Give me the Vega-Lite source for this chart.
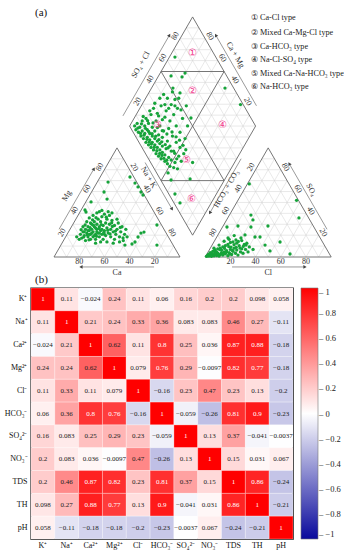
{
"$schema": "https://vega.github.io/schema/vega-lite/v6.json",
"padding": {"left": 3, "top": 0, "right": 0, "bottom": 0},
"spacing": -7.5,
"config": {"text": {"font": "Liberation Serif"}, "axis": {"labelFont": "Liberation Serif"}, "legend": {"labelFont": "Liberation Serif"}},
"resolve": {"scale": {"color": "independent"}, "legend": {"color": "independent"}},
"datasets": {
"grid": [
{"x":5,"y":8.66,"x2":95,"y2":8.66},{"x":10,"y":17.32,"x2":90,"y2":17.32},{"x":15,"y":25.98,"x2":85,"y2":25.98},{"x":20,"y":34.64,"x2":80,"y2":34.64},{"x":25,"y":43.3,"x2":75,"y2":43.3},{"x":30,"y":51.96,"x2":70,"y2":51.96},{"x":35,"y":60.62,"x2":65,"y2":60.62},{"x":40,"y":69.28,"x2":60,"y2":69.28},{"x":45,"y":77.94,"x2":55,"y2":77.94},
{"x":10,"y":0,"x2":55,"y2":77.94},{"x":20,"y":0,"x2":60,"y2":69.28},{"x":30,"y":0,"x2":65,"y2":60.62},{"x":40,"y":0,"x2":70,"y2":51.96},{"x":50,"y":0,"x2":75,"y2":43.3},{"x":60,"y":0,"x2":80,"y2":34.64},{"x":70,"y":0,"x2":85,"y2":25.98},{"x":80,"y":0,"x2":90,"y2":17.32},{"x":90,"y":0,"x2":95,"y2":8.66},
{"x":10,"y":0,"x2":5,"y2":8.66},{"x":20,"y":0,"x2":10,"y2":17.32},{"x":30,"y":0,"x2":15,"y2":25.98},{"x":40,"y":0,"x2":20,"y2":34.64},{"x":50,"y":0,"x2":25,"y2":43.3},{"x":60,"y":0,"x2":30,"y2":51.96},{"x":70,"y":0,"x2":35,"y2":60.62},{"x":80,"y":0,"x2":40,"y2":69.28},{"x":90,"y":0,"x2":45,"y2":77.94},
{"x":125,"y":8.66,"x2":215,"y2":8.66},{"x":130,"y":17.32,"x2":210,"y2":17.32},{"x":135,"y":25.98,"x2":205,"y2":25.98},{"x":140,"y":34.64,"x2":200,"y2":34.64},{"x":145,"y":43.3,"x2":195,"y2":43.3},{"x":150,"y":51.96,"x2":190,"y2":51.96},{"x":155,"y":60.62,"x2":185,"y2":60.62},{"x":160,"y":69.28,"x2":180,"y2":69.28},{"x":165,"y":77.94,"x2":175,"y2":77.94},
{"x":130,"y":0,"x2":175,"y2":77.94},{"x":140,"y":0,"x2":180,"y2":69.28},{"x":150,"y":0,"x2":185,"y2":60.62},{"x":160,"y":0,"x2":190,"y2":51.96},{"x":170,"y":0,"x2":195,"y2":43.3},{"x":180,"y":0,"x2":200,"y2":34.64},{"x":190,"y":0,"x2":205,"y2":25.98},{"x":200,"y":0,"x2":210,"y2":17.32},{"x":210,"y":0,"x2":215,"y2":8.66},
{"x":130,"y":0,"x2":125,"y2":8.66},{"x":140,"y":0,"x2":130,"y2":17.32},{"x":150,"y":0,"x2":135,"y2":25.98},{"x":160,"y":0,"x2":140,"y2":34.64},{"x":170,"y":0,"x2":145,"y2":43.3},{"x":180,"y":0,"x2":150,"y2":51.96},{"x":190,"y":0,"x2":155,"y2":60.62},{"x":200,"y":0,"x2":160,"y2":69.28},{"x":210,"y":0,"x2":165,"y2":77.94},
{"x":115,"y":25.98,"x2":65,"y2":112.58},{"x":120,"y":34.64,"x2":70,"y2":121.24},{"x":125,"y":43.3,"x2":75,"y2":129.9},{"x":130,"y":51.96,"x2":80,"y2":138.56},{"x":140,"y":69.28,"x2":90,"y2":155.88},{"x":145,"y":77.94,"x2":95,"y2":164.54},{"x":150,"y":86.6,"x2":100,"y2":173.21},{"x":155,"y":95.26,"x2":105,"y2":181.87},
{"x":105,"y":25.98,"x2":155,"y2":112.58},{"x":100,"y":34.64,"x2":150,"y2":121.24},{"x":95,"y":43.3,"x2":145,"y2":129.9},{"x":90,"y":51.96,"x2":140,"y2":138.56},{"x":80,"y":69.28,"x2":130,"y2":155.88},{"x":75,"y":77.94,"x2":125,"y2":164.54},{"x":70,"y":86.6,"x2":120,"y2":173.21},{"x":65,"y":95.26,"x2":115,"y2":181.87},
{"x":105,"y":25.98,"x2":115,"y2":25.98},{"x":100,"y":34.64,"x2":120,"y2":34.64},{"x":95,"y":43.3,"x2":125,"y2":43.3},{"x":90,"y":51.96,"x2":130,"y2":51.96},{"x":80,"y":69.28,"x2":140,"y2":69.28},{"x":75,"y":77.94,"x2":145,"y2":77.94},{"x":70,"y":86.6,"x2":150,"y2":86.6},{"x":65,"y":95.26,"x2":155,"y2":95.26},{"x":60,"y":103.92,"x2":160,"y2":103.92},{"x":65,"y":112.58,"x2":155,"y2":112.58},{"x":70,"y":121.24,"x2":150,"y2":121.24},{"x":75,"y":129.9,"x2":145,"y2":129.9},{"x":80,"y":138.56,"x2":140,"y2":138.56},{"x":90,"y":155.88,"x2":130,"y2":155.88},{"x":95,"y":164.54,"x2":125,"y2":164.54},{"x":100,"y":173.2,"x2":120,"y2":173.2},{"x":105,"y":181.86,"x2":115,"y2":181.86}
],
"frame": [
{"x":0,"y":0,"x2":100,"y2":0},{"x":0,"y":0,"x2":50,"y2":86.6},{"x":100,"y":0,"x2":50,"y2":86.6},
{"x":120,"y":0,"x2":220,"y2":0},{"x":120,"y":0,"x2":170,"y2":86.6},{"x":220,"y":0,"x2":170,"y2":86.6},
{"x":110,"y":17.32,"x2":60,"y2":103.92},{"x":110,"y":17.32,"x2":160,"y2":103.92},{"x":60,"y":103.92,"x2":110,"y2":190.53},{"x":160,"y":103.92,"x2":110,"y2":190.53},
{"x":135,"y":60.62,"x2":85,"y2":147.22},{"x":85,"y":60.62,"x2":135,"y2":147.22},{"x":85,"y":147.22,"x2":135,"y2":147.22},{"x":85,"y":60.62,"x2":135,"y2":60.62}
],
"arrows": [
{"x":79.4,"y":-7.9,"x2":21.4,"y2":-7.9},{"x":141.3,"y":-7.9,"x2":199.2,"y2":-7.9},{"x":4,"y":22,"x2":31.7,"y2":70},{"x":72.3,"y":75,"x2":93.7,"y2":38},{"x":216.7,"y":22,"x2":186.7,"y2":74},{"x":148.5,"y":78,"x2":123.7,"y2":35},{"x":54.7,"y":112,"x2":91.6,"y2":176},{"x":160.7,"y":120,"x2":128.4,"y2":176}
],
"heads": [
{"x":21.4,"y":-7.9,"d":"w"},{"x":199.2,"y":-7.9,"d":"e"},{"x":31.7,"y":70,"d":"ne"},{"x":91.6,"y":176,"d":"ne"},{"x":93.7,"y":38,"d":"se"},{"x":186.7,"y":74,"d":"nw"},{"x":128.4,"y":176,"d":"nw"},{"x":123.7,"y":35,"d":"sw"}
],
"labels": [
{"x":20,"y":-4,"t":"80","g":"b"},{"x":40,"y":-4,"t":"60","g":"b"},{"x":60,"y":-4,"t":"40","g":"b"},{"x":80,"y":-4,"t":"20","g":"b"},
{"x":140,"y":-4,"t":"20","g":"b"},{"x":160,"y":-4,"t":"40","g":"b"},{"x":180,"y":-4,"t":"60","g":"b"},{"x":200,"y":-4,"t":"80","g":"b"},
{"x":6.5,"y":19.3,"t":"20","g":"l"},{"x":16.5,"y":36.6,"t":"40","g":"l"},{"x":26.5,"y":54,"t":"60","g":"l"},{"x":36.5,"y":71.3,"t":"80","g":"l"},
{"x":63.5,"y":71.3,"t":"20","g":"r"},{"x":73.5,"y":54,"t":"40","g":"r"},{"x":83.5,"y":36.6,"t":"60","g":"r"},{"x":93.5,"y":19.3,"t":"80","g":"r"},
{"x":156.5,"y":71.3,"t":"20","g":"l"},{"x":146.5,"y":54,"t":"40","g":"l"},{"x":136.5,"y":36.6,"t":"60","g":"l"},{"x":126.5,"y":19.3,"t":"80","g":"l"},
{"x":183.5,"y":71.3,"t":"80","g":"r"},{"x":193.5,"y":54,"t":"60","g":"r"},{"x":203.5,"y":36.6,"t":"40","g":"r"},{"x":213.5,"y":19.3,"t":"20","g":"r"},
{"x":66.5,"y":123.2,"t":"20","g":"l"},{"x":76.5,"y":140.6,"t":"40","g":"l"},{"x":86.5,"y":157.9,"t":"60","g":"l"},{"x":96.5,"y":175.2,"t":"80","g":"l"},
{"x":153.5,"y":123.2,"t":"20","g":"r"},{"x":143.5,"y":140.6,"t":"40","g":"r"},{"x":133.5,"y":157.9,"t":"60","g":"r"},{"x":123.5,"y":175.2,"t":"80","g":"r"},
{"x":50,"y":-12.7,"t":"Ca","g":"b"},{"x":170,"y":-12.7,"t":"Cl","g":"b"},
{"x":10.3,"y":48.4,"t":"Mg","g":"l"},{"x":75,"y":63,"t":"Na + K","g":"r"},{"x":137,"y":54,"t":"HCO₃ + CO₃","g":"l"},{"x":204,"y":53.2,"t":"SO₄","g":"r"},{"x":69,"y":152.4,"t":"SO₄ + Cl","g":"l"},{"x":143.7,"y":160.3,"t":"Ca + Mg","g":"r"}
],
"zones": [
{"x":110,"y":161.7,"t":"①"},{"x":110,"y":131.7,"t":"②"},{"x":82,"y":104.5,"t":"③"},{"x":134,"y":104.5,"t":"④"},{"x":105,"y":77,"t":"⑤"},{"x":109,"y":46,"t":"⑥"}
],
"notes": [
{"x":156.3,"y":189.9,"t":"① Ca-Cl type"},{"x":156.3,"y":177.5,"t":"② Mixed Ca-Mg-Cl type"},{"x":156.3,"y":166.4,"t":"③ Ca-HCO₃ type"},{"x":156.3,"y":156.3,"t":"④ Na-Cl-SO₄ type"},{"x":156.3,"y":145.2,"t":"⑤ Mixed Ca-Na-HCO₃ type"},{"x":156.3,"y":134.7,"t":"⑥ Na-HCO₃ type"}
],
"tags": [
{"x":-15.1,"y":194,"t":"(a)"},{"x":-15.1,"y":-18.25,"t":"(b)"}
],
"pts": [
{"x":42.9,"y":59.5},{"x":39.7,"y":51.6},{"x":60.3,"y":63.5},{"x":64.3,"y":58.7},{"x":66.7,"y":55.6},{"x":69,"y":51.6},{"x":70.6,"y":49.2},{"x":29.4,"y":43.7},{"x":42.1,"y":46},{"x":24.6,"y":37.3},{"x":25.4,"y":35.7},{"x":69,"y":19},{"x":71.4,"y":19.8},{"x":64.3,"y":11.9},{"x":56.3,"y":9.5},{"x":81.7,"y":25.4},{"x":81.7,"y":9.5},{"x":66.7,"y":15.9},{"x":61.9,"y":10.3},{"x":54.8,"y":15.1},
{"x":18,"y":16},{"x":20,"y":14},{"x":21,"y":18},{"x":22,"y":15},{"x":23,"y":20},{"x":24,"y":17},{"x":25,"y":13},{"x":25,"y":22},{"x":26,"y":19},{"x":27,"y":16},{"x":27,"y":24},{"x":28,"y":21},{"x":29,"y":14},{"x":29,"y":18},{"x":30,"y":26},{"x":30,"y":22},{"x":31,"y":16},{"x":31,"y":20},{"x":32,"y":24},{"x":32,"y":28},{"x":33,"y":18},{"x":33,"y":14},{"x":34,"y":22},{"x":34,"y":26},{"x":35,"y":19},{"x":35,"y":30},{"x":36,"y":16},{"x":36,"y":24},{"x":37,"y":21},{"x":37,"y":28},{"x":38,"y":18},{"x":38,"y":32},{"x":39,"y":25},{"x":39,"y":14},{"x":40,"y":21},{"x":41,"y":27},{"x":41,"y":17},{"x":42,"y":30},{"x":42,"y":23},{"x":43,"y":19},{"x":44,"y":26},{"x":44,"y":33},{"x":45,"y":16},{"x":45,"y":22},{"x":46,"y":29},{"x":47,"y":20},{"x":48,"y":25},{"x":48,"y":14},{"x":49,"y":18},{"x":50,"y":22},{"x":51,"y":27},{"x":52,"y":16},{"x":53,"y":20},{"x":54,"y":24},{"x":55,"y":13},{"x":56,"y":18},{"x":57,"y":22},{"x":58,"y":16},{"x":26,"y":28},{"x":28,"y":31},{"x":31,"y":33},{"x":34,"y":35},{"x":36,"y":36},{"x":40,"y":34},{"x":38,"y":37},{"x":29,"y":27},{"x":23,"y":24},{"x":46,"y":35},{"x":43,"y":36},{"x":50,"y":30},{"x":52,"y":12},{"x":47,"y":11},{"x":42,"y":12},{"x":37,"y":12},{"x":33,"y":11},{"x":24,"y":20},{"x":28,"y":18},{"x":30,"y":19},{"x":32,"y":17},{"x":34,"y":20},{"x":36,"y":19},{"x":38,"y":22},{"x":40,"y":18},{"x":27,"y":21},{"x":33,"y":23},
{"x":21.5,"y":21.7},{"x":23.6,"y":15.8},{"x":26.4,"y":17.6},{"x":28.7,"y":23.2},{"x":31.4,"y":25.1},{"x":33.8,"y":16.4},{"x":35.7,"y":22.6},{"x":37.5,"y":25.7},{"x":39.6,"y":19.7},{"x":42.7,"y":21.2},{"x":44.5,"y":18.3},{"x":46.3,"y":24.2},{"x":48.8,"y":20.6},{"x":30.6,"y":29.5},{"x":33.4,"y":31.2},{"x":27.8,"y":13.6},{"x":24.7,"y":25.4},{"x":41.5,"y":31.6},{"x":45.8,"y":27.1},{"x":52.6,"y":23.5},
{"x":155,"y":58},{"x":192.5,"y":45},{"x":194.4,"y":31},{"x":156.3,"y":33.3},{"x":157.9,"y":29.4},{"x":137.3,"y":23.8},{"x":146,"y":24.6},{"x":156.3,"y":23.8},{"x":169.8,"y":24.6},{"x":159.5,"y":15.9},{"x":163.5,"y":15.9},{"x":167.5,"y":9.5},{"x":171.4,"y":4.8},{"x":179.4,"y":11.9},{"x":187.3,"y":2.4},{"x":138.1,"y":15.1},{"x":144.4,"y":13.5},{"x":148.4,"y":15.1},{"x":151.6,"y":17.5},{"x":152.4,"y":9.5},{"x":154,"y":4},{"x":147.6,"y":7.1},{"x":140.5,"y":7.9},
{"x":121,"y":0.5},{"x":122,"y":1},{"x":123,"y":0.8},{"x":124,"y":1.5},{"x":125,"y":0.6},{"x":126,"y":2},{"x":127,"y":1},{"x":128,"y":2.5},{"x":129,"y":1.2},{"x":130,"y":3},{"x":131,"y":0.8},{"x":132,"y":2},{"x":133,"y":3.5},{"x":134,"y":1.5},{"x":135,"y":4},{"x":136,"y":2.5},{"x":137,"y":5},{"x":138,"y":1},{"x":139,"y":3.5},{"x":140,"y":6},{"x":141,"y":2},{"x":142,"y":4.5},{"x":143,"y":7},{"x":144,"y":3},{"x":145,"y":5.5},{"x":146,"y":1.5},{"x":147,"y":9},{"x":148,"y":4},{"x":149,"y":6.5},{"x":150,"y":3},{"x":152,"y":6},{"x":153,"y":11},{"x":124,"y":3.5},{"x":126,"y":4.5},{"x":128,"y":5.5},{"x":130,"y":6.5},{"x":132,"y":7},{"x":134,"y":8},{"x":136,"y":9},{"x":138,"y":10},{"x":140,"y":11.5},{"x":142,"y":12},{"x":145,"y":11},{"x":127,"y":7},{"x":131,"y":9.5},{"x":135,"y":12.5},{"x":139,"y":14},{"x":143,"y":17},{"x":149,"y":13},{"x":151,"y":10},{"x":155,"y":8},{"x":158,"y":6},{"x":133,"y":5.5},{"x":129,"y":4},{"x":125,"y":2.8},
{"x":122.5,"y":2.1},{"x":124.8,"y":1.1},{"x":127.6,"y":3.3},{"x":130.4,"y":1.8},{"x":133.7,"y":2.6},{"x":136.8,"y":3.7},{"x":139.5,"y":2.4},{"x":141.8,"y":5.2},{"x":144.6,"y":7.6},{"x":127.2,"y":5.1},{"x":131.6,"y":5.8},{"x":135.4,"y":6.8},{"x":138.7,"y":8.2},{"x":142.9,"y":9.8},{"x":146.3,"y":12.4},{"x":150.2,"y":8.4},
{"x":64,"y":104},{"x":65,"y":101},{"x":66,"y":106},{"x":67,"y":99},{"x":68,"y":103},{"x":69,"y":96},{"x":70,"y":100},{"x":70,"y":108},{"x":71,"y":94},{"x":72,"y":98},{"x":72,"y":104},{"x":73,"y":91},{"x":74,"y":95},{"x":74,"y":101},{"x":75,"y":89},{"x":76,"y":93},{"x":76,"y":98},{"x":77,"y":87},{"x":78,"y":91},{"x":78,"y":96},{"x":79,"y":85},{"x":80,"y":89},{"x":80,"y":94},{"x":81,"y":82},{"x":82,"y":87},{"x":82,"y":92},{"x":83,"y":80},{"x":84,"y":85},{"x":84,"y":90},{"x":85,"y":78},{"x":86,"y":83},{"x":86,"y":88},{"x":88,"y":76},{"x":88,"y":81},{"x":89,"y":86},{"x":90,"y":74},{"x":91,"y":79},{"x":92,"y":72},{"x":93,"y":77},{"x":95,"y":71},{"x":96,"y":75},{"x":98,"y":70},{"x":73,"y":110},{"x":75,"y":106},{"x":77,"y":113},{"x":78,"y":103},{"x":80,"y":100},{"x":81,"y":108},{"x":83,"y":97},{"x":84,"y":104},{"x":86,"y":95},{"x":87,"y":100},{"x":88,"y":111},{"x":90,"y":92},{"x":91,"y":102},{"x":92,"y":88},{"x":94,"y":96},{"x":95,"y":84},{"x":97,"y":91},{"x":99,"y":80},{"x":100,"y":87},{"x":101,"y":76},{"x":103,"y":82},{"x":79,"y":118},{"x":82,"y":114},{"x":85,"y":120},{"x":86,"y":109},{"x":89,"y":116},{"x":92,"y":108},{"x":93,"y":121},{"x":95,"y":113},{"x":97,"y":104},{"x":98,"y":118},{"x":100,"y":99},{"x":102,"y":110},{"x":104,"y":94},{"x":105,"y":120},{"x":106,"y":104},{"x":90,"y":126},{"x":94,"y":131},{"x":96,"y":125},{"x":87,"y":129},{"x":76,"y":116},{"x":80,"y":122},{"x":84,"y":126},{"x":88,"y":121},{"x":91,"y":118},{"x":96,"y":120},{"x":99,"y":126},{"x":83,"y":112},
{"x":66.5,"y":102.3},{"x":68.7,"y":98.1},{"x":71.4,"y":96.7},{"x":73.8,"y":93.4},{"x":75.6,"y":91.2},{"x":77.3,"y":89.6},{"x":79.5,"y":87.1},{"x":81.6,"y":84.4},{"x":83.9,"y":82.2},{"x":85.7,"y":80.6},{"x":87.2,"y":78.3},{"x":89.5,"y":76.8},{"x":69.4,"y":105.7},{"x":72.6,"y":102.1},{"x":75.1,"y":99.6},{"x":77.9,"y":97.8},{"x":80.7,"y":95.9},{"x":83.2,"y":93.1},{"x":85.5,"y":91.4},{"x":88.3,"y":89.2},{"x":90.6,"y":86.7},{"x":93.1,"y":84.1},{"x":95.8,"y":82.3},{"x":97.4,"y":77.9},{"x":70.8,"y":111.5},{"x":74.3,"y":108.2},{"x":78.6,"y":106.4},{"x":82.1,"y":102.7},{"x":85.9,"y":100.3},{"x":89.6,"y":97.6},{"x":93.7,"y":99.2},{"x":96.9,"y":95.4},{"x":99.6,"y":92.7},{"x":102.4,"y":88.6},{"x":104.6,"y":85.1},
{"x":96,"y":158.7},{"x":92.9,"y":143.7},{"x":104,"y":146},{"x":101.6,"y":142.9},{"x":94.4,"y":134.1},{"x":100,"y":130.2},{"x":135.7,"y":134.1},{"x":148,"y":121},{"x":108.7,"y":110.3},{"x":100.8,"y":116.7},{"x":96,"y":50},{"x":100,"y":42.9},{"x":92.9,"y":61.1},{"x":90.5,"y":66.7},{"x":110,"y":75},{"x":108,"y":62}
],
"corr": [
{"r":"K⁺","c":"K⁺","v":1},{"r":"K⁺","c":"Na⁺","v":0.11},{"r":"K⁺","c":"Ca²⁺","v":-0.024},{"r":"K⁺","c":"Mg²⁺","v":0.24},{"r":"K⁺","c":"Cl⁻","v":0.11},{"r":"K⁺","c":"HCO₃⁻","v":0.06},{"r":"K⁺","c":"SO₄²⁻","v":0.16},{"r":"K⁺","c":"NO₃⁻","v":0.2},{"r":"K⁺","c":"TDS","v":0.2},{"r":"K⁺","c":"TH","v":0.098},{"r":"K⁺","c":"pH","v":0.058},
{"r":"Na⁺","c":"K⁺","v":0.11},{"r":"Na⁺","c":"Na⁺","v":1},{"r":"Na⁺","c":"Ca²⁺","v":0.21},{"r":"Na⁺","c":"Mg²⁺","v":0.24},{"r":"Na⁺","c":"Cl⁻","v":0.33},{"r":"Na⁺","c":"HCO₃⁻","v":0.36},{"r":"Na⁺","c":"SO₄²⁻","v":0.083},{"r":"Na⁺","c":"NO₃⁻","v":0.083},{"r":"Na⁺","c":"TDS","v":0.46},{"r":"Na⁺","c":"TH","v":0.27},{"r":"Na⁺","c":"pH","v":-0.11},
{"r":"Ca²⁺","c":"K⁺","v":-0.024},{"r":"Ca²⁺","c":"Na⁺","v":0.21},{"r":"Ca²⁺","c":"Ca²⁺","v":1},{"r":"Ca²⁺","c":"Mg²⁺","v":0.62},{"r":"Ca²⁺","c":"Cl⁻","v":0.11},{"r":"Ca²⁺","c":"HCO₃⁻","v":0.8},{"r":"Ca²⁺","c":"SO₄²⁻","v":0.25},{"r":"Ca²⁺","c":"NO₃⁻","v":0.036},{"r":"Ca²⁺","c":"TDS","v":0.87},{"r":"Ca²⁺","c":"TH","v":0.88},{"r":"Ca²⁺","c":"pH","v":-0.18},
{"r":"Mg²⁺","c":"K⁺","v":0.24},{"r":"Mg²⁺","c":"Na⁺","v":0.24},{"r":"Mg²⁺","c":"Ca²⁺","v":0.62},{"r":"Mg²⁺","c":"Mg²⁺","v":1},{"r":"Mg²⁺","c":"Cl⁻","v":0.079},{"r":"Mg²⁺","c":"HCO₃⁻","v":0.76},{"r":"Mg²⁺","c":"SO₄²⁻","v":0.29},{"r":"Mg²⁺","c":"NO₃⁻","v":-0.0097},{"r":"Mg²⁺","c":"TDS","v":0.82},{"r":"Mg²⁺","c":"TH","v":0.77},{"r":"Mg²⁺","c":"pH","v":-0.18},
{"r":"Cl⁻","c":"K⁺","v":0.11},{"r":"Cl⁻","c":"Na⁺","v":0.33},{"r":"Cl⁻","c":"Ca²⁺","v":0.11},{"r":"Cl⁻","c":"Mg²⁺","v":0.079},{"r":"Cl⁻","c":"Cl⁻","v":1},{"r":"Cl⁻","c":"HCO₃⁻","v":-0.16},{"r":"Cl⁻","c":"SO₄²⁻","v":0.23},{"r":"Cl⁻","c":"NO₃⁻","v":0.47},{"r":"Cl⁻","c":"TDS","v":0.23},{"r":"Cl⁻","c":"TH","v":0.13},{"r":"Cl⁻","c":"pH","v":-0.2},
{"r":"HCO₃⁻","c":"K⁺","v":0.06},{"r":"HCO₃⁻","c":"Na⁺","v":0.36},{"r":"HCO₃⁻","c":"Ca²⁺","v":0.8},{"r":"HCO₃⁻","c":"Mg²⁺","v":0.76},{"r":"HCO₃⁻","c":"Cl⁻","v":-0.16},{"r":"HCO₃⁻","c":"HCO₃⁻","v":1},{"r":"HCO₃⁻","c":"SO₄²⁻","v":-0.059},{"r":"HCO₃⁻","c":"NO₃⁻","v":-0.26},{"r":"HCO₃⁻","c":"TDS","v":0.81},{"r":"HCO₃⁻","c":"TH","v":0.9},{"r":"HCO₃⁻","c":"pH","v":-0.23},
{"r":"SO₄²⁻","c":"K⁺","v":0.16},{"r":"SO₄²⁻","c":"Na⁺","v":0.083},{"r":"SO₄²⁻","c":"Ca²⁺","v":0.25},{"r":"SO₄²⁻","c":"Mg²⁺","v":0.29},{"r":"SO₄²⁻","c":"Cl⁻","v":0.23},{"r":"SO₄²⁻","c":"HCO₃⁻","v":-0.059},{"r":"SO₄²⁻","c":"SO₄²⁻","v":1},{"r":"SO₄²⁻","c":"NO₃⁻","v":0.13},{"r":"SO₄²⁻","c":"TDS","v":0.37},{"r":"SO₄²⁻","c":"TH","v":-0.041},{"r":"SO₄²⁻","c":"pH","v":-0.0037},
{"r":"NO₃⁻","c":"K⁺","v":0.2},{"r":"NO₃⁻","c":"Na⁺","v":0.083},{"r":"NO₃⁻","c":"Ca²⁺","v":0.036},{"r":"NO₃⁻","c":"Mg²⁺","v":-0.0097},{"r":"NO₃⁻","c":"Cl⁻","v":0.47},{"r":"NO₃⁻","c":"HCO₃⁻","v":-0.26},{"r":"NO₃⁻","c":"SO₄²⁻","v":0.13},{"r":"NO₃⁻","c":"NO₃⁻","v":1},{"r":"NO₃⁻","c":"TDS","v":0.15},{"r":"NO₃⁻","c":"TH","v":0.031},{"r":"NO₃⁻","c":"pH","v":0.067},
{"r":"TDS","c":"K⁺","v":0.2},{"r":"TDS","c":"Na⁺","v":0.46},{"r":"TDS","c":"Ca²⁺","v":0.87},{"r":"TDS","c":"Mg²⁺","v":0.82},{"r":"TDS","c":"Cl⁻","v":0.23},{"r":"TDS","c":"HCO₃⁻","v":0.81},{"r":"TDS","c":"SO₄²⁻","v":0.37},{"r":"TDS","c":"NO₃⁻","v":0.15},{"r":"TDS","c":"TDS","v":1},{"r":"TDS","c":"TH","v":0.86},{"r":"TDS","c":"pH","v":-0.24},
{"r":"TH","c":"K⁺","v":0.098},{"r":"TH","c":"Na⁺","v":0.27},{"r":"TH","c":"Ca²⁺","v":0.88},{"r":"TH","c":"Mg²⁺","v":0.77},{"r":"TH","c":"Cl⁻","v":0.13},{"r":"TH","c":"HCO₃⁻","v":0.9},{"r":"TH","c":"SO₄²⁻","v":-0.041},{"r":"TH","c":"NO₃⁻","v":0.031},{"r":"TH","c":"TDS","v":0.86},{"r":"TH","c":"TH","v":1},{"r":"TH","c":"pH","v":-0.21},
{"r":"pH","c":"K⁺","v":0.058},{"r":"pH","c":"Na⁺","v":-0.11},{"r":"pH","c":"Ca²⁺","v":-0.18},{"r":"pH","c":"Mg²⁺","v":-0.18},{"r":"pH","c":"Cl⁻","v":-0.2},{"r":"pH","c":"HCO₃⁻","v":-0.23},{"r":"pH","c":"SO₄²⁻","v":-0.0037},{"r":"pH","c":"NO₃⁻","v":0.067},{"r":"pH","c":"TDS","v":-0.24},{"r":"pH","c":"TH","v":-0.21},{"r":"pH","c":"pH","v":1}
]
},
"vconcat": [
{
"width": 341, "height": 288,
"view": {"stroke": null},
"encoding": {
"x": {"field": "x", "type": "quantitative", "scale": {"domain": [-18.254, 252.38], "zero": false, "nice": false}, "axis": null},
"y": {"field": "y", "type": "quantitative", "scale": {"domain": [-24.6, 203.97], "zero": false, "nice": false}, "axis": null}
},
"layer": [
{"data": {"name": "grid"}, "mark": {"type": "rule", "color": "#d2d2d2", "strokeWidth": 0.5}, "encoding": {"x2": {"field": "x2"}, "y2": {"field": "y2"}}},
{"data": {"name": "frame"}, "mark": {"type": "rule", "color": "#666666", "strokeWidth": 0.9}, "encoding": {"x2": {"field": "x2"}, "y2": {"field": "y2"}}},
{"data": {"name": "arrows"}, "mark": {"type": "rule", "color": "#555555", "strokeWidth": 0.6}, "encoding": {"x2": {"field": "x2"}, "y2": {"field": "y2"}}},
{"data": {"name": "heads"}, "transform": [{"filter": "datum.d == 'w'"}], "mark": {"type": "point", "shape": "triangle-up", "angle": -90, "filled": true, "size": 14, "color": "#444444", "opacity": 1}},
{"data": {"name": "heads"}, "transform": [{"filter": "datum.d == 'e'"}], "mark": {"type": "point", "shape": "triangle-up", "angle": 90, "filled": true, "size": 14, "color": "#444444", "opacity": 1}},
{"data": {"name": "heads"}, "transform": [{"filter": "datum.d == 'ne'"}], "mark": {"type": "point", "shape": "triangle-up", "angle": 30, "filled": true, "size": 14, "color": "#444444", "opacity": 1}},
{"data": {"name": "heads"}, "transform": [{"filter": "datum.d == 'nw'"}], "mark": {"type": "point", "shape": "triangle-up", "angle": -30, "filled": true, "size": 14, "color": "#444444", "opacity": 1}},
{"data": {"name": "heads"}, "transform": [{"filter": "datum.d == 'se'"}], "mark": {"type": "point", "shape": "triangle-up", "angle": 150, "filled": true, "size": 14, "color": "#444444", "opacity": 1}},
{"data": {"name": "heads"}, "transform": [{"filter": "datum.d == 'sw'"}], "mark": {"type": "point", "shape": "triangle-up", "angle": -150, "filled": true, "size": 14, "color": "#444444", "opacity": 1}},
{"data": {"name": "pts"}, "mark": {"type": "point", "filled": true, "size": 11, "color": "#16a33a", "opacity": 1}},
{"data": {"name": "labels"}, "transform": [{"filter": "datum.g == 'b'"}], "mark": {"type": "text", "fontSize": 8, "color": "#333333", "baseline": "middle"}, "encoding": {"text": {"field": "t"}}},
{"data": {"name": "labels"}, "transform": [{"filter": "datum.g == 'l'"}], "mark": {"type": "text", "fontSize": 8, "color": "#333333", "baseline": "middle", "angle": -60}, "encoding": {"text": {"field": "t"}}},
{"data": {"name": "labels"}, "transform": [{"filter": "datum.g == 'r'"}], "mark": {"type": "text", "fontSize": 8, "color": "#333333", "baseline": "middle", "angle": 60}, "encoding": {"text": {"field": "t"}}},
{"data": {"name": "zones"}, "mark": {"type": "text", "fontSize": 10, "color": "#f23a8e", "baseline": "middle"}, "encoding": {"text": {"field": "t"}}},
{"data": {"name": "notes"}, "mark": {"type": "text", "fontSize": 8.2, "color": "#222222", "baseline": "middle", "align": "left"}, "encoding": {"text": {"field": "t"}}},
{"data": {"name": "tags"}, "mark": {"type": "text", "fontSize": 11, "color": "#111111", "baseline": "middle", "align": "left"}, "encoding": {"text": {"field": "t"}}}
]
},
{
"width": 262, "height": 251,
"data": {"name": "corr"},
"view": {"stroke": "#000000", "strokeWidth": 1.4},
"encoding": {
"x": {"field": "c", "type": "nominal", "sort": ["K⁺","Na⁺","Ca²⁺","Mg²⁺","Cl⁻","HCO₃⁻","SO₄²⁻","NO₃⁻","TDS","TH","pH"], "scale": {"paddingInner": 0, "paddingOuter": 0}, "axis": {"title": null, "labelAngle": 0, "ticks": false, "domain": false, "labelPadding": 2, "labelFontSize": 8, "labelColor": "#111111"}},
"y": {"field": "r", "type": "nominal", "sort": ["K⁺","Na⁺","Ca²⁺","Mg²⁺","Cl⁻","HCO₃⁻","SO₄²⁻","NO₃⁻","TDS","TH","pH"], "scale": {"paddingInner": 0, "paddingOuter": 0}, "axis": {"title": null, "ticks": false, "domain": false, "labelPadding": 4, "labelFontSize": 8, "labelColor": "#111111"}}
},
"layer": [
{"mark": {"type": "rect", "stroke": "#ffffff", "strokeWidth": 0.4, "strokeOpacity": 0.7},
 "encoding": {"color": {"field": "v", "type": "quantitative", "scale": {"domain": [-1, 0, 1], "range": ["#0a0a9c", "#ffffff", "#ff0000"], "interpolate": "rgb"},
  "legend": {"title": null, "orient": "right", "offset": 8, "direction": "vertical", "gradientLength": 251, "gradientThickness": 17, "values": [-1, -0.8, -0.6, -0.4, -0.2, 0, 0.2, 0.4, 0.6, 0.8, 1], "format": "~g", "labelExpr": "'– ' + datum.label", "labelFontSize": 8.5, "labelOffset": 1, "labelColor": "#222222", "gradientStrokeColor": "#777777", "gradientStrokeWidth": 0.6, "padding": 0}}}},
{"mark": {"type": "text", "fontSize": 7, "font": "Liberation Serif"},
 "encoding": {"text": {"field": "v", "type": "quantitative", "format": "~g"}, "color": {"condition": {"test": "datum.v > 0.7", "value": "#ffffff"}, "value": "#222222"}}}
]
}
]
}
